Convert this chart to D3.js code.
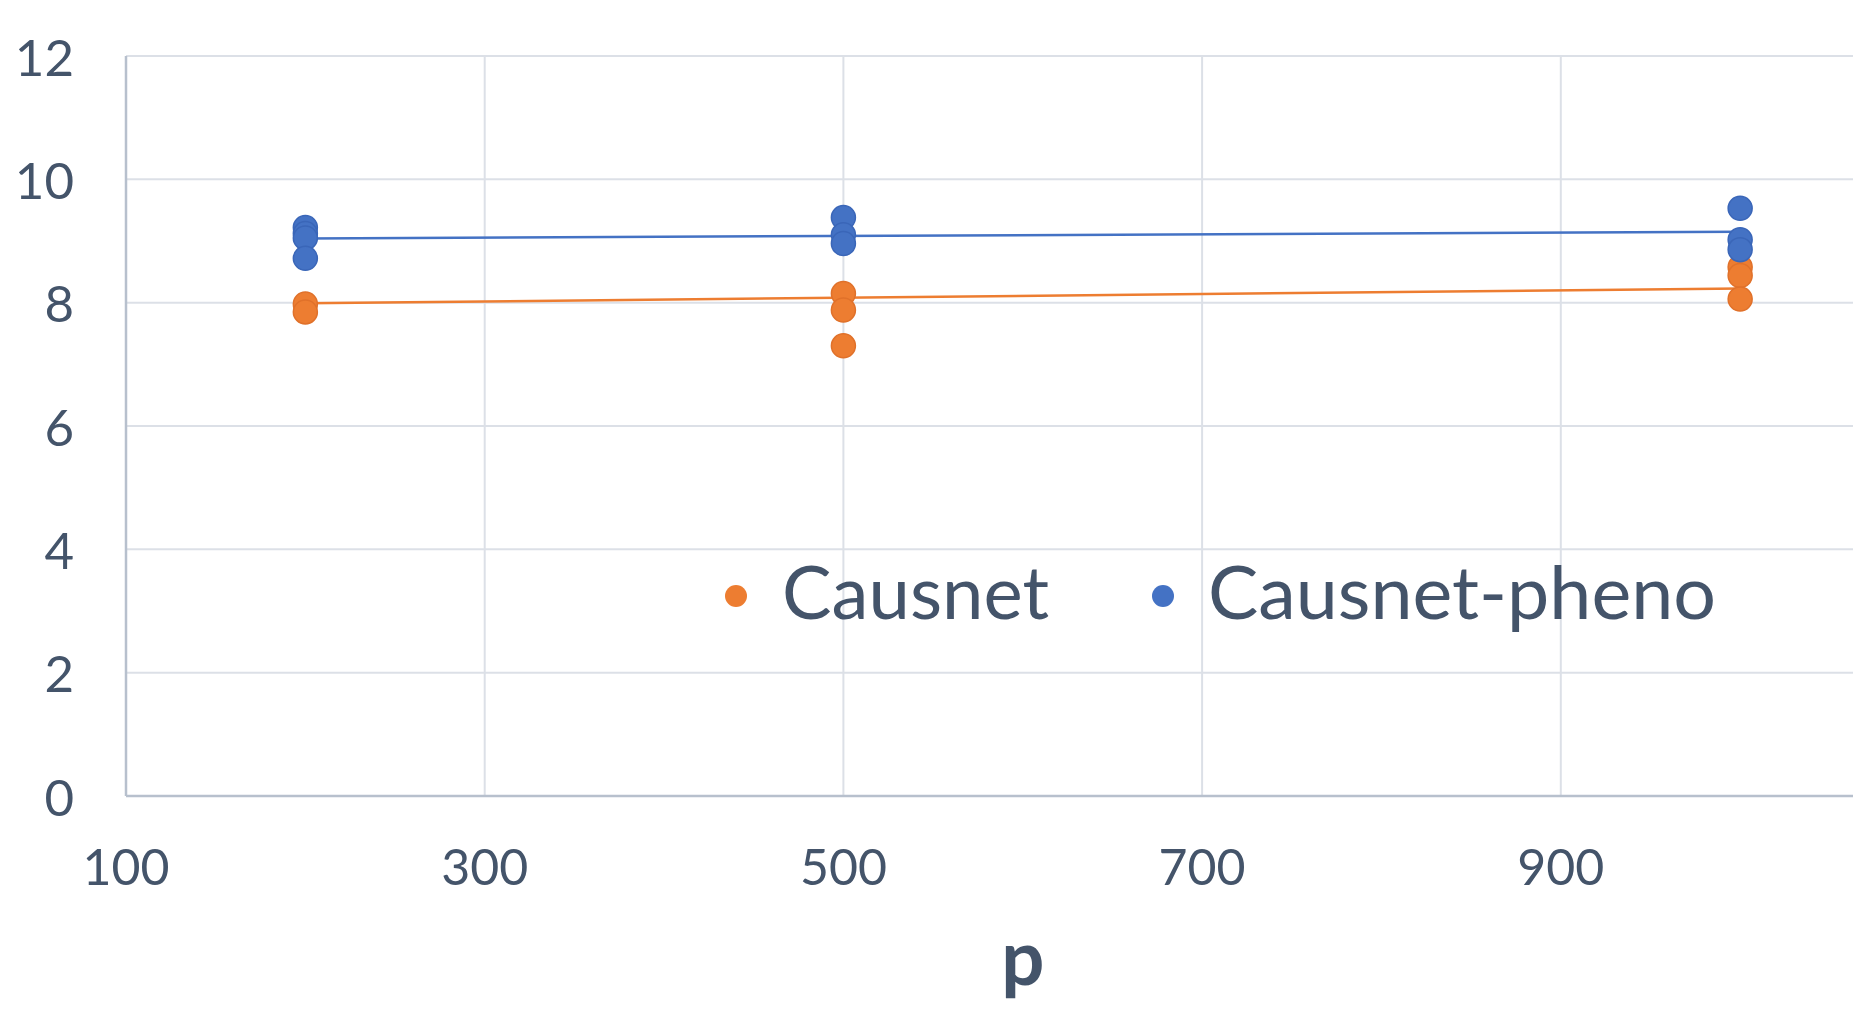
<!DOCTYPE html>
<html>
<head>
<meta charset="utf-8">
<script src="https://cdn.jsdelivr.net/npm/d3@7"></script>
<style>
  html, body { margin: 0; padding: 0; background: #fff; }
  svg { display: block; }
</style>
</head>
<body>
<svg id="chart" width="1853" height="1034"></svg>
<script>
// ---- data ----
const pValues = [200, 500, 1000];
const causnetValues = [[7.98, 7.85], [8.15, 7.88, 7.30], [8.58, 8.44, 8.06]];
const phenoValues = [[9.22, 9.12, 9.05, 8.72], [9.38, 9.10, 8.96], [9.53, 9.02, 8.86]];
const trendP = [200, 1000];
const causnetTrend = [7.99, 8.23];
const phenoTrend = [9.04, 9.15];
const xTicks = [100, 300, 500, 700, 900, 1100];
const yTicks = [0, 2, 4, 6, 8, 10, 12];
const seriesNames = ["Causnet", "Causnet-pheno"];
const xTitle = "p";

// ---- styles ----
const colors = { orange: "#ED7D31", blue: "#4472C4" };
const textColor = "#44546A";
const font = "Lato, 'Noto Sans', sans-serif";

const svg = d3.select("#chart");
const x = d3.scaleLinear().domain([100, 1100]).range([126, 1919.5]);
const y = d3.scaleLinear().domain([0, 12]).range([796, 56]);

// gridlines
const g = svg.append("g");
g.selectAll("line.h").data(yTicks.filter(d => d > 0)).join("line")
  .attr("x1", x(100)).attr("x2", 1853)
  .attr("y1", d => y(d)).attr("y2", d => y(d))
  .attr("stroke", "#DCE0E7").attr("stroke-width", 2);
g.selectAll("line.v").data(xTicks.filter(d => d > 100)).join("line")
  .attr("x1", d => x(d)).attr("x2", d => x(d))
  .attr("y1", y(12)).attr("y2", y(0))
  .attr("stroke", "#DCE0E7").attr("stroke-width", 2);

// axes lines
svg.append("line").attr("x1", x(100)).attr("x2", x(100)).attr("y1", y(12)).attr("y2", y(0))
  .attr("stroke", "#B7C0CD").attr("stroke-width", 2.5);
svg.append("line").attr("x1", x(100)).attr("x2", 1853).attr("y1", y(0)).attr("y2", y(0))
  .attr("stroke", "#B7C0CD").attr("stroke-width", 2.5);

// tick labels
svg.append("g").selectAll("text").data(yTicks).join("text")
  .attr("x", 74).attr("y", d => y(d))
  .attr("text-anchor", "end").attr("dominant-baseline", "central")
  .attr("font-family", font).attr("font-size", 51).attr("fill", textColor)
  .text(d => d);
svg.append("g").selectAll("text").data(xTicks.filter(d => x(d) < 1853)).join("text")
  .attr("x", d => x(d)).attr("y", 866)
  .attr("text-anchor", "middle").attr("dominant-baseline", "central")
  .attr("font-family", font).attr("font-size", 50).attr("fill", textColor)
  .text(d => d);

// x title
svg.append("text").attr("x", x(600)).attr("y", 985)
  .attr("text-anchor", "middle")
  .attr("font-family", font).attr("font-weight", "bold").attr("font-size", 76).attr("fill", textColor)
  .text(xTitle);

// trend lines
const line = d3.line().x(d => x(d[0])).y(d => y(d[1]));
svg.append("path").datum(trendP.map((p, i) => [p, causnetTrend[i]]))
  .attr("d", line).attr("stroke", colors.orange).attr("stroke-width", 2.5).attr("fill", "none");
svg.append("path").datum(trendP.map((p, i) => [p, phenoTrend[i]]))
  .attr("d", line).attr("stroke", colors.blue).attr("stroke-width", 2.5).attr("fill", "none");

// points
function flat(vals) {
  const out = [];
  vals.forEach((arr, i) => arr.forEach(v => out.push([pValues[i], v])));
  return out;
}
svg.append("g").selectAll("circle").data(flat(causnetValues)).join("circle")
  .attr("cx", d => x(d[0])).attr("cy", d => y(d[1])).attr("r", 12)
  .attr("fill", colors.orange).attr("stroke", "#E0712A").attr("stroke-width", 1.5);
svg.append("g").selectAll("circle").data(flat(phenoValues)).join("circle")
  .attr("cx", d => x(d[0])).attr("cy", d => y(d[1])).attr("r", 12)
  .attr("fill", colors.blue).attr("stroke", "#3A66B8").attr("stroke-width", 1.5);

// legend
const legend = [
  { name: seriesNames[0], color: colors.orange, cx: 736, tx: 782, w: 267 },
  { name: seriesNames[1], color: colors.blue, cx: 1163, tx: 1208, w: 508 }
];
const lg = svg.append("g");
legend.forEach(l => {
  lg.append("circle").attr("cx", l.cx).attr("cy", 596).attr("r", 11).attr("fill", l.color);
  lg.append("text").attr("x", l.tx).attr("y", 619)
    .attr("font-family", font).attr("font-size", 74).attr("fill", textColor)
    .attr("textLength", l.w).attr("lengthAdjust", "spacingAndGlyphs")
    .text(l.name);
});
</script>
</body>
</html>
